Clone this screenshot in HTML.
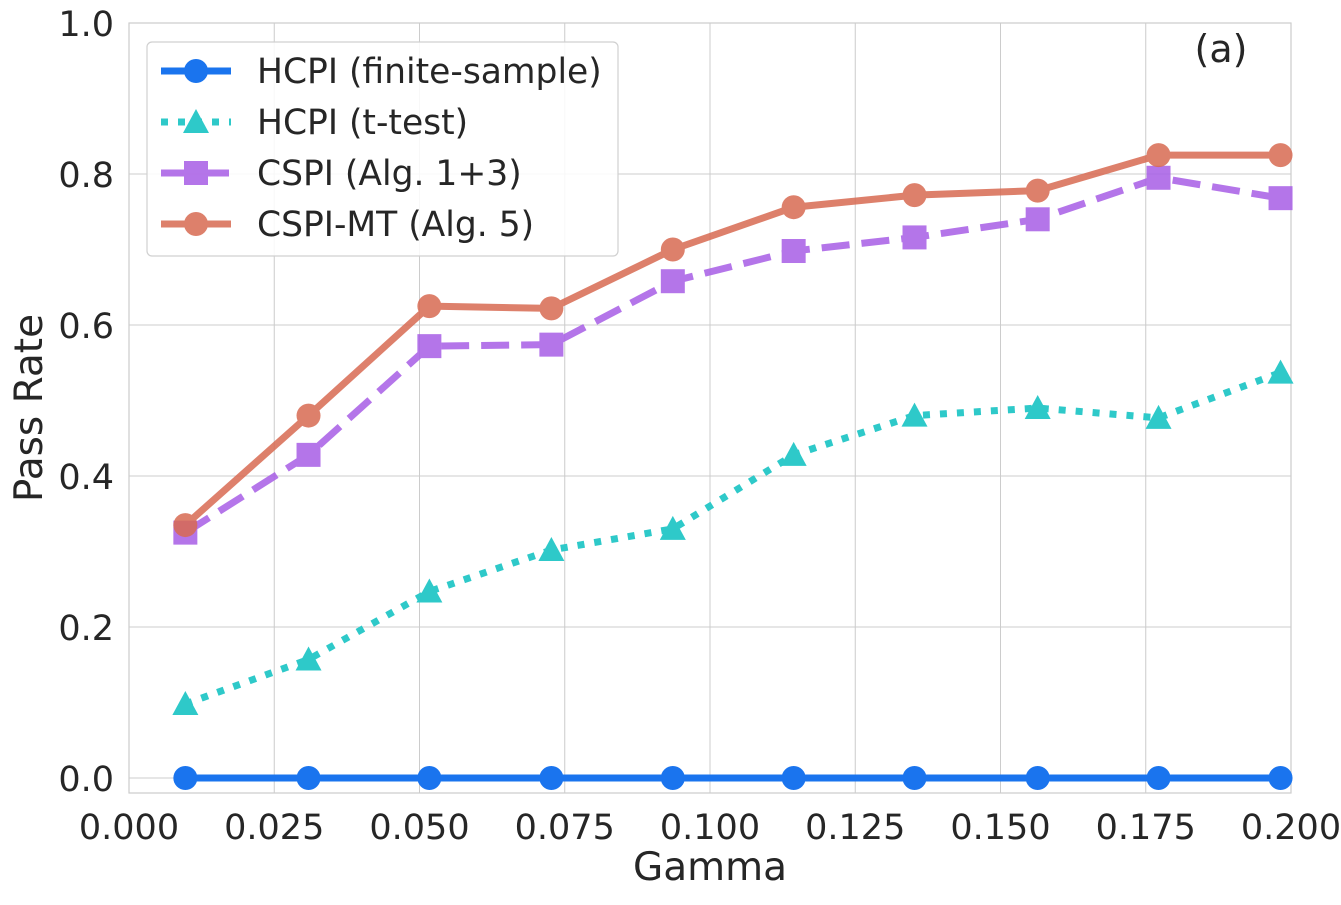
<!DOCTYPE html>
<html><head><meta charset="utf-8"><style>
body{margin:0;background:#fff;}
svg text{font-family:"DejaVu Sans","Liberation Sans",sans-serif;fill:#262626;}
</style></head><body>
<svg id="chart" width="1341" height="900" xmlns="http://www.w3.org/2000/svg"></svg>
<script>
const gammas=[0.0097,0.0309,0.0517,0.0727,0.0936,0.1144,0.1352,0.1564,0.1772,0.1982];
const finiteSample=[0,0,0,0,0,0,0,0,0,0];
const tTest=[0.098,0.157,0.247,0.302,0.33,0.428,0.48,0.49,0.477,0.537];
const cspi=[0.325,0.428,0.572,0.574,0.658,0.698,0.716,0.74,0.795,0.768];
const cspiMT=[0.335,0.48,0.625,0.622,0.70,0.756,0.772,0.778,0.825,0.825];
const xTicks=[0,0.025,0.05,0.075,0.1,0.125,0.15,0.175,0.2];
const xTickLabels=["0.000","0.025","0.050","0.075","0.100","0.125","0.150","0.175","0.200"];
const yTicks=[0,0.2,0.4,0.6,0.8,1.0];
const yTickLabels=["0.0","0.2","0.4","0.6","0.8","1.0"];

const L=129,R=1291,T=23,B=793;
const xs=v=>L+(v-0)/(0.2)*(R-L);
const ys=v=>778-v*755;
const svg=document.getElementById('chart');
const NS='http://www.w3.org/2000/svg';
function mk(tag,attrs,parent){const e=document.createElementNS(NS,tag);for(const k in attrs)e.setAttribute(k,attrs[k]);(parent||svg).appendChild(e);return e;}

xTicks.forEach((t,i)=>{
  const g=mk('line',{x1:xs(t),x2:xs(t),y1:T,y2:B,stroke:'#cccccc','stroke-width':1});
  
  
  const tx=mk('text',{x:xs(t),y:839,'font-size':35,'text-anchor':'middle'});
  tx.textContent=xTickLabels[i];
  
  
});
yTicks.forEach((t,i)=>{
  const g=mk('line',{x1:L,x2:R,y1:ys(t),y2:ys(t),stroke:'#cccccc','stroke-width':1});
  
  
  const tx=mk('text',{x:114,y:ys(t)+13,'font-size':35,'text-anchor':'end'});
  tx.textContent=yTickLabels[i];
  
  
});
const frame=mk('rect',{x:L,y:T,width:R-L,height:B-T,fill:'none',stroke:'#cccccc','stroke-width':1.2});



function marker(shape,x,y,color,parent,size){
  size=size||12;
  if(shape==='circle')return mk('circle',{cx:x,cy:y,r:size,fill:color},parent);
  if(shape==='square')return mk('rect',{x:x-size,y:y-size,width:2*size,height:2*size,fill:color},parent);
  return mk('polygon',{points:`${x},${y-size-1} ${x-size-1},${y+size-1} ${x+size+1},${y+size-1}`,fill:color},parent);
}
const series=[
  {name:'hcpi-finite-sample',vals:finiteSample,color:'#1a74ee',dash:'',shape:'circle',op:1,w:7},
  {name:'hcpi-t-test',vals:tTest,color:'#2ec9c9',dash:'7,10',shape:'triangle',op:1,w:7},
  {name:'cspi',vals:cspi,color:'#a85ee6',dash:'28,12',shape:'square',op:0.85,w:7},
  {name:'cspi-mt',vals:cspiMT,color:'#d86a52',dash:'',shape:'circle',op:0.85,w:7},
];
series.forEach(s=>{
  const g=mk('g',{opacity:s.op});
  
  
  const pts=s.vals.map((v,i)=>xs(gammas[i])+','+ys(v)).join(' ');
  const pl=mk('polyline',{points:pts,fill:'none',stroke:s.color,'stroke-width':s.w,'stroke-dasharray':s.dash,'stroke-linejoin':'round','stroke-linecap':s.dash?'butt':'round'},g);
  
  
  s.vals.forEach((v,i)=>{
    const m=marker(s.shape,xs(gammas[i]),ys(v),s.color,g);
    
    
  });
});

const lg=mk('g',{});


mk('rect',{x:147,y:42,width:471,height:214,rx:5,fill:'#fff','fill-opacity':0.85,stroke:'#d0d0d0','stroke-width':1.2},lg);
const labels=['HCPI (finite-sample)','HCPI (t-test)','CSPI (Alg. 1+3)','CSPI-MT (Alg. 5)'];
series.forEach((s,i)=>{
  const y=71+i*51;
  const e=mk('g',{opacity:s.op},lg);
  
  
  mk('line',{x1:161,x2:231,y1:y,y2:y,stroke:s.color,'stroke-width':7,'stroke-dasharray':s.dash},e);
  marker(s.shape,196,y,s.color,e);
  const t=mk('text',{x:257,y:y+12,'font-size':34.5},lg);
  t.textContent=labels[i];
  
  
});

const pa=mk('text',{x:1221,y:62,'font-size':38,'text-anchor':'middle'});
pa.textContent='(a)';


const xt=mk('text',{x:710,y:880,'font-size':39,'text-anchor':'middle'});
xt.textContent='Gamma';


const yt=mk('text',{x:0,y:0,'font-size':39,'text-anchor':'middle',transform:'translate(42,408) rotate(-90)'});
yt.textContent='Pass Rate';


</script>
</body></html>
